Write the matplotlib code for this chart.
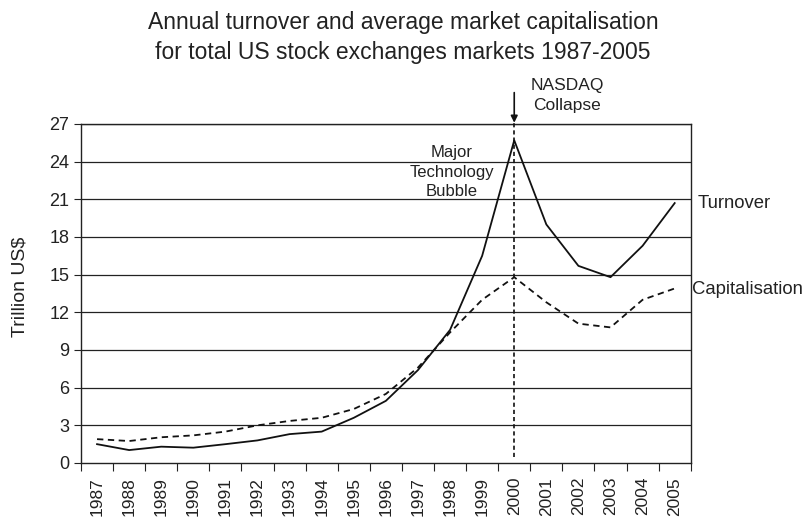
import numpy as np
import matplotlib.pyplot as plt

plt.rcParams['font.family'] = ['Liberation Sans', 'DejaVu Sans']

# data (trillion US$)
years = [str(y) for y in range(1987, 2006)]
turnover = [1.5, 1.03, 1.3, 1.22, 1.5, 1.8, 2.3, 2.5, 3.6, 4.95, 7.4, 10.6,
            16.5, 25.7, 19.0, 15.7, 14.8, 17.3, 20.7]
capitalisation = [1.9, 1.75, 2.05, 2.2, 2.5, 3.0, 3.35, 3.6, 4.3, 5.5, 7.6, 10.4,
                  13.0, 14.8, 12.8, 11.1, 10.8, 13.0, 13.9]
yticks = list(range(0, 28, 3))

fig = plt.figure(figsize=(8.06, 5.19), dpi=100)
ax = fig.add_axes([0.1005, 0.1079, 0.7565, 0.6532])

x = np.arange(len(years))

# grid lines
for t in yticks[1:]:
    ax.axhline(t, color='#222222', lw=0.9, zorder=1)

ax.plot(x, turnover, color='#111111', lw=1.3, zorder=3)
ax.plot(x, capitalisation, color='#111111', lw=1.3, ls=(0, (3.5, 2.5)), zorder=3)

# NASDAQ collapse marker
i2000 = years.index('2000')
ax.plot([i2000, i2000], [0.5, 27.2], color='#111111', lw=1.2,
        ls=(0, (2.5, 1.8)), clip_on=False, zorder=4)
ax.annotate('', xy=(i2000, 27.1), xytext=(i2000, 29.5),
            arrowprops=dict(arrowstyle='-|>', color='#111111', lw=1.2,
                            mutation_scale=10, shrinkA=0, shrinkB=0),
            annotation_clip=False)
ax.text(14.65, 29.26, 'NASDAQ\nCollapse', ha='center', va='center',
        fontsize=12.5, color='#222222', linespacing=1.44)
ax.text(11.05, 23.17, 'Major\nTechnology\nBubble', ha='center', va='center',
        fontsize=12, color='#222222', linespacing=1.35)

ax.text(18.7, 20.65, 'Turnover', ha='left', va='center', fontsize=13.3,
        color='#222222', clip_on=False)
ax.text(18.55, 13.85, 'Capitalisation', ha='left', va='center', fontsize=13.3,
        color='#222222', clip_on=False)

ax.set_xlim(-0.5, len(years) - 0.5)
ax.set_ylim(0, 27)
ax.set_yticks(yticks)
ax.tick_params(axis='y', direction='out', length=5, labelsize=13,
               colors='#222222')

ax.set_xticks(np.arange(-0.5, len(years)), minor=False)
ax.set_xticklabels([])
ax.tick_params(axis='x', which='major', direction='out', length=6,
               color='#222222')
ax.set_xticks(x, minor=True)
ax.set_xticklabels(years, minor=True, rotation=90, fontsize=12.5,
                   color='#222222')
ax.tick_params(axis='x', which='minor', length=0, pad=10)

for s in ax.spines.values():
    s.set_color('#222222')
    s.set_linewidth(1.0)

fig.text(20 / 806, 1 - 287 / 519, 'Trillion US$', rotation=90, ha='center',
         va='center', fontsize=14, color='#222222')

fig.text(0.5, 1 - 23 / 519, 'Annual turnover and average market capitalisation',
         ha='center', va='center', fontsize=16.5, color='#222222')
fig.text(0.5, 1 - 53 / 519, 'for total US stock exchanges markets 1987-2005',
         ha='center', va='center', fontsize=16.5, color='#222222')

fig.savefig('out.png', dpi=100)
